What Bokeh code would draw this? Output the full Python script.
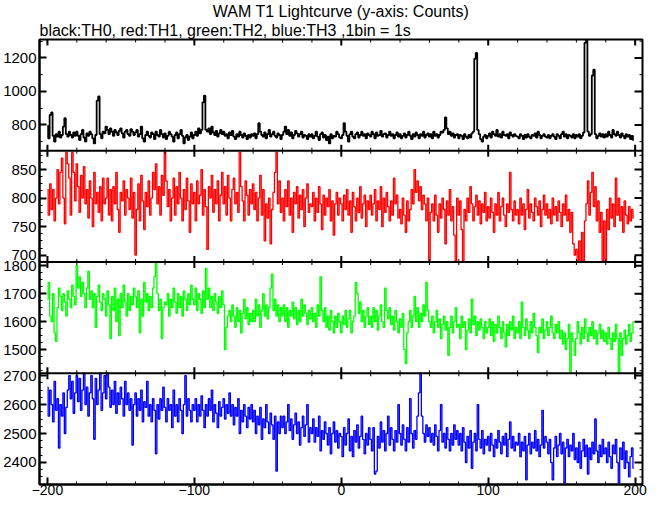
import math
from bokeh.plotting import figure
from bokeh.models import Range1d, LinearAxis, Title, FixedTicker, Span
from bokeh.embed import file_html
from bokeh.resources import INLINE

title_text = "WAM T1 Lightcurve (y-axis: Counts)"
subtitle_text = "black:TH0, red:TH1, green:TH2, blue:TH3 ,1bin = 1s"

time_s = list(range(-200, 200))

th0 = [
    795, 720, 860, 875, 735, 700, 745, 730, 760, 725, 740, 790, 840, 745, 730, 760, 740, 725, 755, 735,
    760, 735, 710, 745, 770, 725, 700, 750, 735, 760, 745, 720, 690, 740, 945, 970, 745, 720, 760, 750,
    790, 770, 745, 780, 760, 735, 770, 755, 740, 765, 780, 750, 725, 760, 770, 745, 735, 775, 760, 740,
    755, 770, 730, 745, 790, 720, 700, 740, 760, 735, 725, 755, 745, 715, 760, 740, 730, 770, 745, 725,
    750, 715, 735, 760, 745, 730, 700, 740, 755, 720, 745, 770, 735, 690, 725, 740, 710, 730, 755, 720,
    740, 760, 735, 780, 750, 770, 935, 975, 770, 760, 780, 745, 790, 755, 740, 765, 730, 750, 770, 745,
    760, 735, 745, 720, 755, 740, 765, 730, 715, 745, 730, 760, 740, 725, 750, 735, 715, 740, 725, 745,
    735, 750, 720, 745, 810, 760, 740, 730, 755, 720, 745, 770, 730, 745, 760, 735, 725, 750, 740, 715,
    740, 760, 790, 745, 770, 735, 755, 720, 740, 765, 750, 730, 745, 760, 725, 740, 735, 715, 745, 730,
    745, 720, 735, 760, 730, 710, 745, 755, 725, 740, 710, 730, 690, 745, 720, 735, 730, 760, 745, 725,
    720, 740, 810, 760, 735, 700, 745, 760, 730, 720, 745, 755, 725, 740, 760, 735, 745, 720, 750, 740,
    730, 760, 745, 720, 755, 735, 740, 765, 730, 745, 750, 725, 740, 760, 735, 745, 720, 740, 755, 730,
    745, 720, 735, 750, 725, 740, 760, 735, 715, 745, 730, 755, 740, 720, 745, 735, 760, 725, 740, 750,
    730, 745, 720, 760, 735, 745, 725, 740, 760, 755, 770, 845, 780, 745, 760, 735, 750, 725, 740, 745,
    720, 740, 735, 715, 745, 730, 720, 740, 725, 750, 760, 1195, 1230, 770, 745, 715, 700, 730, 740, 720,
    735, 750, 725, 760, 745, 735, 770, 730, 745, 725, 760, 740, 735, 745, 720, 755, 740, 730, 745, 735,
    730, 720, 745, 735, 715, 740, 725, 745, 730, 720, 740, 735, 750, 725, 760, 740, 720, 735, 745, 730,
    725, 740, 720, 735, 745, 730, 715, 745, 735, 720, 745, 760, 730, 745, 720, 740, 735, 725, 745, 720,
    740, 730, 745, 720, 735, 755, 1290, 1310, 760, 735, 745, 1095, 1130, 745, 720, 735, 750, 730, 745, 725,
    745, 730, 760, 740, 725, 770, 745, 735, 760, 740, 725, 750, 735, 720, 745, 730, 740, 715, 735, 710,
]

th1 = [
    815, 770, 825, 780, 815, 760, 800, 850, 790, 845, 870, 800, 755, 880, 860, 835, 770, 880, 845, 795,
    860, 820, 775, 840, 800, 855, 790, 815, 765, 830, 800, 750, 845, 790, 810, 775, 820, 760, 835, 790,
    800, 835, 770, 815, 760, 820, 790, 845, 780, 740, 810, 795, 830, 770, 815, 800, 780, 835, 765, 810,
    700, 780, 825, 760, 840, 795, 745, 810, 785, 830, 770, 800, 845, 815, 860, 790, 820, 770, 840, 805,
    880, 830, 785, 815, 760, 800, 835, 770, 820, 790, 845, 800, 760, 815, 780, 835, 795, 740, 825, 790,
    810, 760, 830, 790, 805, 850, 770, 815, 785, 710, 820, 800, 840, 775, 815, 790, 830, 760, 805, 845,
    790, 820, 770, 840, 800, 760, 815, 835, 790, 810, 775, 880, 820, 795, 760, 830, 805, 770, 815, 790,
    825, 780, 810, 760, 800, 840, 770, 815, 725, 790, 765, 800, 720, 780, 810, 845, 880, 790, 830, 775,
    800, 760, 815, 785, 830, 770, 800, 740, 810, 790, 820, 765, 805, 780, 815, 750, 800, 825, 775, 790,
    785, 810, 760, 800, 775, 820, 790, 745, 805, 770, 800, 785, 815, 760, 795, 735, 790, 810, 770, 800,
    790, 760, 805, 780, 815, 770, 795, 740, 810, 785, 760, 800, 775, 820, 765, 790, 805, 750, 795, 780,
    805, 770, 790, 815, 760, 795, 780, 820, 750, 800, 775, 810, 785, 760, 795, 770, 835, 790, 805, 765,
    780, 755, 800, 770, 740, 795, 760, 780, 815, 790, 850, 810, 830, 795, 820, 780, 805, 790, 760, 800,
    690, 775, 790, 760, 805, 770, 740, 790, 765, 800, 780, 720, 795, 770, 815, 760, 785, 735, 690, 800,
    770, 795, 745, 690, 780, 760, 800, 775, 820, 790, 760, 785, 805, 770, 795, 755, 790, 775, 810, 760,
    785, 765, 800, 775, 740, 790, 770, 810, 760, 785, 800, 770, 750, 790, 775, 845, 780, 760, 795, 770,
    780, 755, 800, 770, 790, 745, 780, 815, 765, 790, 775, 760, 800, 785, 770, 795, 750, 780, 805, 770,
    790, 765, 780, 755, 800, 770, 785, 760, 795, 775, 750, 790, 770, 805, 760, 780, 740, 775, 720, 700,
    710, 690, 725, 690, 740, 690, 760, 790, 830, 770, 810, 845, 785, 820, 760, 795, 740, 775, 690, 760,
    690, 780, 745, 800, 765, 790, 750, 835, 770, 800, 760, 785, 740, 795, 770, 755, 785, 760, 780, 765,
]

th2 = [
    1680, 1740, 1620, 1600, 1700, 1560, 1530, 1650, 1720, 1690, 1640, 1700, 1670, 1620, 1710, 1680, 1650, 1730, 1690, 1660,
    1800, 1720, 1760, 1690, 1740, 1700, 1650, 1720, 1780, 1680, 1710, 1650, 1700, 1580, 1690, 1730, 1670, 1640, 1700, 1680,
    1620, 1710, 1660, 1540, 1690, 1640, 1720, 1600, 1680, 1550, 1700, 1650, 1730, 1670, 1620, 1700, 1640, 1690, 1660, 1720,
    1690, 1650, 1710, 1560, 1680, 1620, 1740, 1670, 1700, 1640, 1690, 1650, 1720, 1760, 1812, 1700, 1640, 1680, 1540, 1650,
    1670, 1660, 1700, 1620, 1680, 1650, 1720, 1670, 1630, 1700, 1650, 1690, 1620, 1710, 1680, 1640, 1700, 1660, 1730, 1680,
    1660, 1720, 1640, 1700, 1680, 1630, 1710, 1650, 1790, 1680, 1720, 1650, 1690, 1640, 1700, 1670, 1630, 1690, 1650, 1710,
    1660, 1500, 1580, 1620, 1640, 1600, 1660, 1620, 1580, 1650, 1600, 1640, 1560, 1630, 1680, 1610, 1650, 1590, 1630, 1600,
    1640, 1600, 1680, 1620, 1660, 1580, 1640, 1700, 1620, 1660, 1610, 1650, 1720, 1770, 1640, 1680, 1620, 1660, 1600, 1650,
    1620, 1660, 1600, 1650, 1580, 1640, 1620, 1670, 1610, 1650, 1590, 1640, 1600, 1680, 1620, 1660, 1630, 1590, 1640, 1610,
    1650, 1600, 1630, 1580, 1660, 1620, 1760, 1640, 1600, 1650, 1580, 1620, 1570, 1640, 1600, 1560, 1620, 1580, 1630, 1600,
    1560, 1620, 1590, 1640, 1580, 1610, 1640, 1560, 1600, 1620, 1740, 1700, 1630, 1670, 1600, 1640, 1580, 1620, 1650, 1590,
    1620, 1580, 1650, 1600, 1640, 1570, 1620, 1660, 1600, 1580, 1720, 1640, 1610, 1650, 1590, 1620, 1570, 1640, 1600, 1560,
    1610, 1580, 1630, 1500, 1450, 1560, 1600, 1640, 1580, 1620, 1690, 1600, 1650, 1580, 1630, 1600, 1660, 1620, 1740, 1640,
    1600, 1580, 1620, 1560, 1600, 1640, 1580, 1610, 1540, 1590, 1620, 1570, 1600, 1480, 1580, 1620, 1560, 1600, 1650, 1580,
    1590, 1540, 1620, 1580, 1600, 1500, 1570, 1610, 1560, 1680, 1590, 1620, 1550, 1600, 1570, 1610, 1580, 1540, 1600, 1560,
    1580, 1610, 1550, 1600, 1530, 1590, 1560, 1620, 1580, 1540, 1600, 1560, 1510, 1590, 1550, 1600, 1570, 1620, 1540, 1580,
    1560, 1600, 1540, 1670, 1580, 1550, 1610, 1570, 1540, 1600, 1560, 1630, 1580, 1550, 1490, 1580, 1560, 1610, 1540, 1570,
    1600, 1550, 1580, 1620, 1560, 1540, 1590, 1560, 1600, 1540, 1570, 1520, 1560, 1500, 1540, 1590, 1420, 1560, 1530, 1480,
    1540, 1600, 1560, 1520, 1580, 1540, 1610, 1560, 1530, 1580, 1550, 1600, 1540, 1570, 1520, 1560, 1590, 1540, 1570, 1530,
    1560, 1520, 1580, 1540, 1500, 1560, 1530, 1590, 1540, 1420, 1560, 1480, 1540, 1570, 1520, 1550, 1590, 1530, 1560, 1600,
]

th3 = [
    2660, 2560, 2650, 2600, 2540, 2680, 2580, 2620, 2450, 2600, 2560, 2640, 2500, 2590, 2650, 2700, 2620, 2680, 2570, 2640,
    2700, 2610, 2690, 2580, 2650, 2708, 2600, 2660, 2560, 2640, 2700, 2620, 2480, 2690, 2600, 2650, 2708, 2580, 2640, 2700,
    2620, 2708, 2660, 2590, 2650, 2600, 2680, 2570, 2640, 2600, 2660, 2620, 2560, 2680, 2600, 2640, 2580, 2620, 2460, 2600,
    2640, 2560, 2620, 2580, 2650, 2540, 2610, 2590, 2680, 2560, 2600, 2540, 2620, 2580, 2430, 2600, 2550, 2620, 2580, 2660,
    2590, 2540, 2620, 2580, 2600, 2520, 2650, 2560, 2600, 2540, 2620, 2580, 2500, 2600, 2700, 2560, 2620, 2580, 2540, 2600,
    2580, 2620, 2540, 2600, 2560, 2630, 2580, 2520, 2600, 2560, 2620, 2580, 2650, 2540, 2600, 2570, 2520, 2610, 2560, 2590,
    2620, 2550, 2600, 2570, 2640, 2560, 2600, 2530, 2590, 2560, 2620, 2500, 2580, 2540, 2600, 2560, 2520, 2590, 2550, 2600,
    2540, 2580, 2500, 2560, 2530, 2590, 2480, 2550, 2520, 2600, 2540, 2500, 2570, 2530, 2480, 2560, 2370, 2540, 2500, 2560,
    2520, 2560, 2500, 2540, 2600, 2510, 2550, 2480, 2530, 2570, 2500, 2540, 2460, 2520, 2560, 2490, 2530, 2600, 2470, 2520,
    2500, 2550, 2470, 2520, 2490, 2560, 2440, 2510, 2480, 2540, 2500, 2460, 2520, 2430, 2500, 2540, 2470, 2510, 2450, 2500,
    2490, 2420, 2520, 2460, 2500, 2550, 2440, 2490, 2420, 2510, 2470, 2530, 2450, 2490, 2560, 2480, 2430, 2500, 2460, 2520,
    2480, 2440, 2520, 2360, 2370, 2490, 2450, 2540, 2470, 2510, 2440, 2500, 2560, 2460, 2520, 2480, 2440, 2510, 2470, 2600,
    2500, 2460, 2530, 2480, 2440, 2520, 2470, 2620, 2500, 2450, 2510, 2480, 2560, 2640, 2708, 2560, 2500, 2470, 2530, 2490,
    2520, 2470, 2500, 2460, 2530, 2490, 2440, 2510, 2600, 2470, 2500, 2450, 2520, 2480, 2440, 2500, 2460, 2530, 2480, 2510,
    2460, 2500, 2440, 2520, 2470, 2400, 2490, 2450, 2510, 2380, 2470, 2500, 2440, 2600, 2480, 2450, 2510, 2430, 2480, 2460,
    2490, 2440, 2500, 2460, 2420, 2480, 2450, 2510, 2470, 2430, 2490, 2460, 2500, 2420, 2480, 2540, 2450, 2490, 2440, 2470,
    2460, 2500, 2420, 2470, 2440, 2490, 2340, 2460, 2500, 2430, 2470, 2450, 2510, 2440, 2480, 2420, 2460, 2580, 2450, 2490,
    2470, 2430, 2480, 2400, 2340, 2450, 2490, 2420, 2460, 2500, 2430, 2470, 2330, 2450, 2480, 2420, 2460, 2440, 2500, 2410,
    2450, 2400, 2470, 2380, 2440, 2480, 2420, 2460, 2360, 2450, 2410, 2470, 2430, 2550, 2440, 2400, 2460, 2420, 2480, 2430,
    2450, 2400, 2470, 2420, 2380, 2460, 2430, 2480, 2400, 2330, 2450, 2410, 2470, 2380, 2440, 2400, 2350, 2420, 2450, 2380,
]

x_major = [-200, -100, 0, 100, 200]
x_minor = list(range(-200, 201, 20))

panels = [
    dict(y=th0, color="#000000", lw=1.8, yr=(646, 1310), major=[800, 1000, 1200],
         minor=[700, 800, 900, 1000, 1100, 1200, 1300]),
    dict(y=th1, color="#ff0000", lw=1.3, yr=(688, 883), major=[700, 750, 800, 850],
         minor=[700 + 12.5 * i for i in range(15)]),
    dict(y=th2, color="#00ff00", lw=1.3, yr=(1416, 1813), major=[1500, 1600, 1700, 1800],
         minor=[1425 + 25 * i for i in range(16)]),
    dict(y=th3, color="#0000ff", lw=1.3, yr=(2324, 2708), major=[2400, 2500, 2600, 2700],
         minor=[2325 + 25 * i for i in range(16)]),
]

FONT = "Liberation Sans"
N = len(panels)
X0, X1 = -205.4, 205.0

p = figure(width=653, height=499, x_range=Range1d(X0, X1), y_range=Range1d(0, N),
           output_backend="svg", toolbar_location=None, title=None,
           x_axis_location=None, y_axis_location=None,
           min_border_left=37, min_border_right=11, min_border_top=38, min_border_bottom=15)
p.grid.visible = False
p.outline_line_color = "black"
p.outline_line_width = 2

# one extra y range per stacked panel; panel k occupies slot [N-1-k, N-k] of the frame
left_major, left_minor, overrides = [], [], {}
for k, pd in enumerate(panels):
    lo, hi = pd["yr"]
    s = hi - lo
    slot = N - 1 - k
    p.extra_y_ranges[f"p{k}"] = Range1d(start=lo - slot * s, end=hi + k * s)
    for v in pd["major"]:
        pos = slot + (v - lo) / s
        left_major.append(pos)
        overrides[pos] = str(v)
    for v in pd["minor"]:
        if lo <= v <= hi:
            left_minor.append(slot + (v - lo) / s)
    p.step(x=time_s, y=pd["y"], mode="center", y_range_name=f"p{k}",
           line_color=pd["color"], line_width=pd["lw"])


def style_axis(ax, size):
    ax.axis_line_width = 2
    ax.axis_line_color = "black"
    ax.major_tick_in = 7
    ax.major_tick_out = 0
    ax.minor_tick_in = 3
    ax.minor_tick_out = 0
    ax.major_tick_line_width = 2
    ax.minor_tick_line_width = 1
    ax.major_label_text_font = FONT
    ax.major_label_text_font_size = size
    ax.major_label_text_color = "black"


la = LinearAxis(ticker=FixedTicker(ticks=left_major, minor_ticks=left_minor),
                major_label_overrides=overrides)
style_axis(la, "15px")
la.major_label_standoff = 3
p.add_layout(la, "left")

ba = LinearAxis(ticker=FixedTicker(ticks=x_major, minor_ticks=x_minor))
style_axis(ba, "14px")
ba.major_label_standoff = 0
p.add_layout(ba, "below")

# panel separators
for b in range(1, N):
    p.add_layout(Span(location=b, dimension="width", line_color="black", line_width=2))

# inward ticks on the right edge (half of each dash is clipped by the frame)
p.scatter(x=[X1] * len(left_major), y=left_major, marker="dash", size=16,
          line_color="black", line_width=2)
p.scatter(x=[X1] * len(left_minor), y=left_minor, marker="dash", size=6,
          line_color="black", line_width=1)

# x ticks at the top edge and at every panel separator
edge_y = list(range(1, N + 1))
mx = [x for x in x_major for _ in edge_y]
my = [y for _ in x_major for y in edge_y]
nx = [x for x in x_minor for _ in edge_y]
ny = [y for _ in x_minor for y in edge_y]
p.scatter(x=mx, y=my, marker="dash", size=12, angle=math.pi / 2,
          line_color="black", line_width=2)
p.scatter(x=nx, y=ny, marker="dash", size=6, angle=math.pi / 2,
          line_color="black", line_width=1)

p.add_layout(Title(text=subtitle_text, align="left", text_font=FONT, text_font_size="16px",
                   text_font_style="normal", text_color="black", standoff=1), "above")
p.add_layout(Title(text=title_text, align="center", text_font=FONT, text_font_size="16px",
                   text_font_style="normal", text_color="black", standoff=0), "above")

open("out.html", "w").write(file_html(p, INLINE))
